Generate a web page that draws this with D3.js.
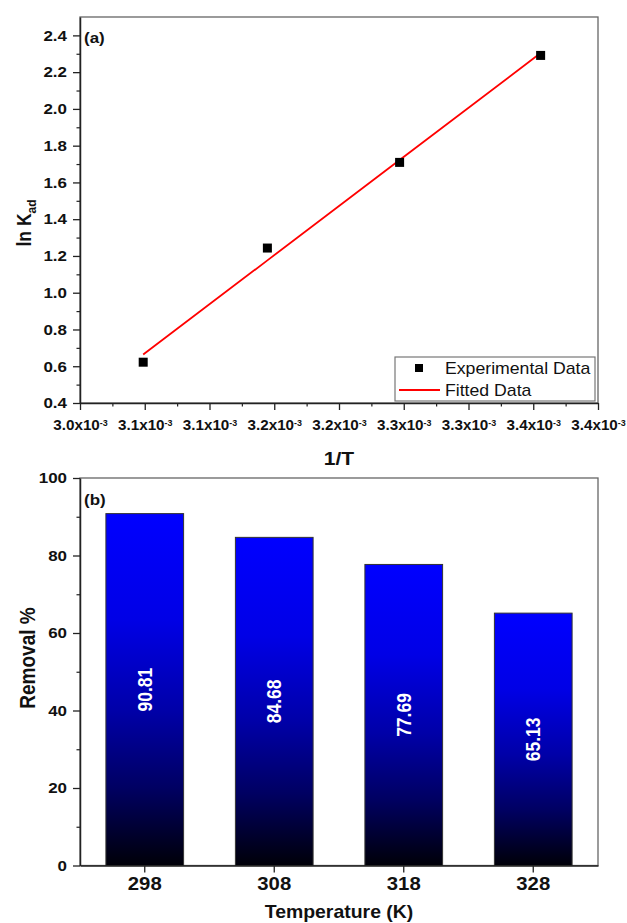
<!DOCTYPE html>
<html>
<head>
<meta charset="utf-8">
<script src="https://cdn.jsdelivr.net/npm/d3@7"></script>
<style>
  html, body { margin: 0; padding: 0; background: #fff; }
  svg { display: block; font-family: Arial, "Liberation Sans", sans-serif; }
</style>
</head>
<body>
<svg id="chart" width="627" height="923"></svg>
<script>
// (a) van 't Hoff plot: ln Kad against 1/T
const invT = [3.0488e-3, 3.1447e-3, 3.2468e-3, 3.3557e-3];
const lnKad = [0.622, 1.243, 1.709, 2.291];
const lnKadFit = [0.664, 1.176, 1.722, 2.304];
const xTickValues = [3.00e-3, 3.05e-3, 3.10e-3, 3.15e-3, 3.20e-3, 3.25e-3, 3.30e-3, 3.35e-3, 3.40e-3];
const xTickLabels = ["3.0", "3.1", "3.1", "3.2", "3.2", "3.3", "3.3", "3.4", "3.4"];
const yTickValuesA = [0.4, 0.6, 0.8, 1.0, 1.2, 1.4, 1.6, 1.8, 2.0, 2.2, 2.4];

// (b) removal percentage at each temperature
const temperatures = ["298", "308", "318", "328"];
const removal = [90.81, 84.68, 77.69, 65.13];
const yTickValuesB = [0, 20, 40, 60, 80, 100];

const svg = d3.select("#chart");
const defs = svg.append("defs");

const L = 80, R = 598;
const A = { top: 17, bottom: 403 };
const B = { top: 478, bottom: 865.5 };
const axisColor = "#222";
const frameColor = "#666";
const SX = 1.13; // glyphs are drawn slightly wide

function styleAxis(g, sx = SX) {
  g.select(".domain").attr("stroke", axisColor).attr("stroke-width", 1.5);
  g.selectAll(".tick line").attr("stroke", axisColor).attr("stroke-width", 1.3);
  g.selectAll(".tick text").attr("fill", "#111").attr("font-weight", "bold")
    .attr("transform", `scale(${sx},1)`);
}
function minor(g) {
  g.select(".domain").remove();
  g.selectAll("line").attr("stroke", axisColor).attr("stroke-width", 1.2);
}
function label(x, y, txt, size, opts = {}) {
  const t = svg.append("text")
    .attr("transform", `translate(${x},${y}) scale(${opts.sx || SX},1)${opts.rot ? " rotate(-90)" : ""}`)
    .attr("text-anchor", opts.anchor || "start")
    .attr("font-size", size).attr("font-weight", opts.weight || "bold").attr("fill", opts.fill || "#111");
  if (txt) t.text(txt);
  return t;
}

// ---------- panel (a) ----------
const xA = d3.scaleLinear().domain([3.0e-3, 3.4e-3]).range([L, R]);
const yA = d3.scaleLinear().domain([0.4, 2.5]).range([A.bottom, A.top]);

svg.append("rect").attr("x", L).attr("y", A.top).attr("width", R - L).attr("height", A.bottom - A.top)
  .attr("fill", "none").attr("stroke", frameColor).attr("stroke-width", 1.3);

svg.append("g").attr("transform", `translate(${L},0)`)
  .call(d3.axisLeft(yA).tickValues(d3.range(0.5, 2.5, 0.2)).tickSize(3.5).tickFormat(""))
  .call(minor);
svg.append("g").attr("transform", `translate(0,${A.bottom})`)
  .call(d3.axisBottom(xA).tickValues(d3.range(0, 8).map(i => 3.025e-3 + i * 0.05e-3)).tickSize(3.5).tickFormat(""))
  .call(minor);

svg.append("g").attr("transform", `translate(${L},0)`)
  .call(d3.axisLeft(yA).tickValues(yTickValuesA).tickSize(7).tickPadding(4.5).tickFormat(d3.format(".1f")).tickSizeOuter(0))
  .call(styleAxis)
  .call(g => g.selectAll(".tick text").attr("font-size", 15));

const xAxisA = svg.append("g").attr("transform", `translate(0,${A.bottom})`)
  .call(d3.axisBottom(xA).tickValues(xTickValues).tickSize(7).tickPadding(10).tickFormat("").tickSizeOuter(0))
  .call(g => styleAxis(g, 1.05));
xAxisA.selectAll(".tick text").each(function (d, i) {
  const t = d3.select(this).attr("font-size", 14.5).attr("dy", "0.71em");
  t.append("tspan").text(xTickLabels[i] + "x10");
  t.append("tspan").attr("font-size", 8.5).attr("dy", "-0.55em").text("-3");
});

// fitted line
svg.append("path")
  .datum(invT.map((x, i) => [x, lnKadFit[i]]))
  .attr("fill", "none").attr("stroke", "#ff0000").attr("stroke-width", 1.8)
  .attr("d", d3.line().x(d => xA(d[0])).y(d => yA(d[1])));

// experimental points
const sq = 9;
svg.append("g").selectAll("rect").data(invT).join("rect")
  .attr("x", d => xA(d) - sq / 2)
  .attr("y", (d, i) => yA(lnKad[i]) - sq / 2)
  .attr("width", sq).attr("height", sq).attr("fill", "#000");

label(84, 43, "(a)", 15);

const yTitleA = label(31, 223, null, 17.5, { rot: true, anchor: "middle" });
yTitleA.append("tspan").text("ln K");
yTitleA.append("tspan").attr("font-size", 12).attr("dy", "0.35em").text("ad");

label((L + R) / 2, 465, "1/T", 18, { anchor: "middle", sx: 1.17 });

// legend
svg.append("rect").attr("x", 395).attr("y", 357).attr("width", 200).attr("height", 44)
  .attr("fill", "#fff").attr("stroke", "#777").attr("stroke-width", 1.2);
svg.append("rect").attr("x", 415).attr("y", 364).attr("width", 8).attr("height", 8).attr("fill", "#000");
svg.append("line").attr("x1", 399).attr("x2", 440).attr("y1", 390).attr("y2", 390)
  .attr("stroke", "#ff0000").attr("stroke-width", 1.8);
label(445, 374, "Experimental Data", 17, { weight: "normal", sx: 1.04 });
label(445, 396, "Fitted Data", 17, { weight: "normal", sx: 1.04 });

// ---------- panel (b) ----------
const xB = d3.scaleBand().domain(temperatures).range([L, R]).paddingInner(0.4).paddingOuter(0.2);
const yB = d3.scaleLinear().domain([0, 100]).range([B.bottom, B.top]);

svg.append("rect").attr("x", L).attr("y", B.top).attr("width", R - L).attr("height", B.bottom - B.top)
  .attr("fill", "none").attr("stroke", frameColor).attr("stroke-width", 1.3);

// vertical blue-to-black fill of each bar
const grad = defs.append("linearGradient").attr("id", "barFill")
  .attr("x1", 0).attr("y1", 0).attr("x2", 0).attr("y2", 1);
[[0, "#0000ff"], [0.3, "#0000e6"], [0.56, "#0000a8"], [0.78, "#000062"], [1, "#000008"]]
  .forEach(([o, c]) => grad.append("stop").attr("offset", o).attr("stop-color", c));

svg.append("g").selectAll("rect").data(temperatures).join("rect")
  .attr("x", d => xB(d))
  .attr("y", (d, i) => yB(removal[i]))
  .attr("width", xB.bandwidth())
  .attr("height", (d, i) => yB(0) - yB(removal[i]))
  .attr("fill", "url(#barFill)").attr("stroke", "#333").attr("stroke-width", 1);

// value labels inside the bars
svg.append("g").selectAll("text").data(temperatures).join("text")
  .attr("transform", (d, i) => `translate(${xB(d) + xB.bandwidth() / 2},${(yB(removal[i]) + yB(0)) / 2}) scale(${SX},1) rotate(-90)`)
  .attr("text-anchor", "middle").attr("dy", "0.35em")
  .attr("font-size", 17.5).attr("font-weight", "bold").attr("fill", "#fff")
  .text((d, i) => removal[i].toFixed(2));

svg.append("g").attr("transform", `translate(${L},0)`)
  .call(d3.axisLeft(yB).tickValues(d3.range(10, 100, 20)).tickSize(3.5).tickFormat(""))
  .call(minor);

svg.append("g").attr("transform", `translate(${L},0)`)
  .call(d3.axisLeft(yB).tickValues(yTickValuesB).tickSize(7).tickPadding(4.5).tickSizeOuter(0))
  .call(styleAxis)
  .call(g => g.selectAll(".tick text").attr("font-size", 15));

svg.append("g").attr("transform", `translate(0,${B.bottom})`)
  .call(d3.axisBottom(xB).tickSize(7).tickPadding(5).tickSizeOuter(0))
  .call(styleAxis)
  .call(g => g.selectAll(".tick text").attr("font-size", 18));

label(84, 505, "(b)", 15);

label(35, 658, "Removal %", 19, { rot: true, anchor: "middle" });

label((L + R) / 2, 918, "Temperature (K)", 18, { anchor: "middle", sx: 1.08 });
</script>
</body>
</html>
